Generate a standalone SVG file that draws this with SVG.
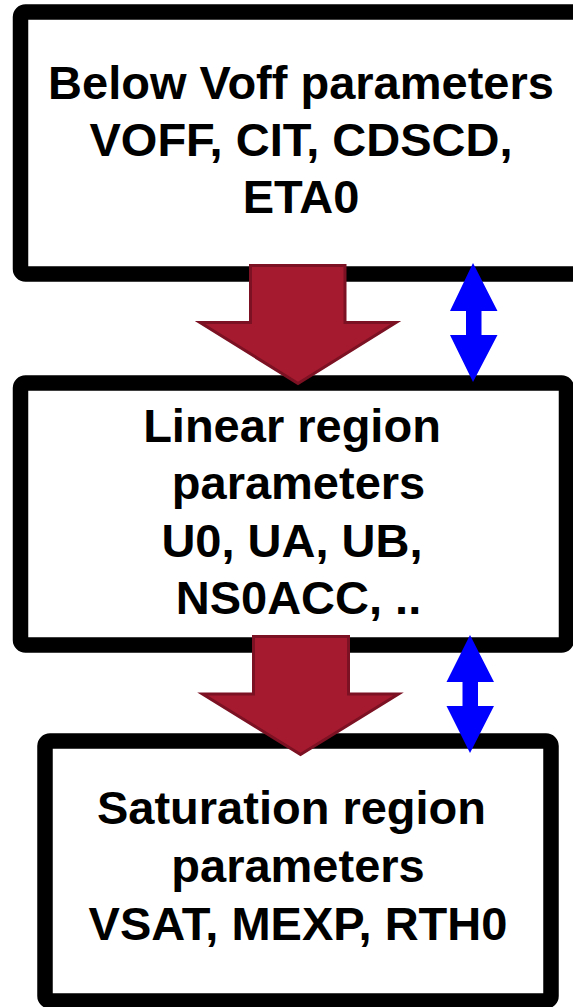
<svg xmlns="http://www.w3.org/2000/svg" width="573" height="1007" viewBox="0 0 573 1007">
<style>
.box{fill:#fff;stroke:#000;stroke-width:15.5}
.t{font-family:"Liberation Sans",Arial,sans-serif;font-weight:bold;font-size:47px;fill:#000;text-anchor:middle}
.flow{fill:#A61A2F;stroke:#7B1122;stroke-width:3;stroke-linejoin:miter}
.link{fill:#0000FF}
</style>
<rect width="573" height="1007" fill="#fff"/>
<g id="node-below-voff">
<rect class="box" x="20.5" y="12" width="580" height="262" rx="5"/>
<text class="t" x="301" y="99">Below Voff parameters</text>
<text class="t" x="301" y="156">VOFF, CIT, CDSCD,</text>
<text class="t" x="301" y="213">ETA0</text>
</g>
<g id="node-linear">
<rect class="box" x="20.5" y="383" width="546" height="262" rx="5"/>
<text class="t" x="292" y="442">Linear region</text>
<text class="t" x="298.5" y="499">parameters</text>
<text class="t" x="292" y="557">U0, UA, UB,</text>
<text class="t" x="298.5" y="614">NS0ACC, ..</text>
</g>
<g id="node-saturation">
<rect class="box" x="45" y="741" width="506" height="260" rx="5"/>
<text class="t" x="291.5" y="824">Saturation region</text>
<text class="t" x="298" y="882">parameters</text>
<text class="t" x="298" y="940">VSAT, MEXP, RTH0</text>
</g>
<g id="connectors">
<polygon class="flow" points="250.5,265.5 345,265.5 345,322.5 396,322.5 298,383.5 200,322.5 250.5,322.5"/>
<polygon class="flow" points="253.5,636.5 348.5,636.5 348.5,694 398.5,694 300.5,754.5 202.5,694 253.5,694"/>
<polygon class="link" points="473,263 497.5,311 481.5,311 481.5,335 497.5,335 473,382 450,335 466,335 466,311 450,311"/>
<polygon class="link" points="470,635 494,682 478,682 478,706 494,706 470,753 446.5,706 462.5,706 462.5,682 446.5,682"/>
</g>
</svg>
